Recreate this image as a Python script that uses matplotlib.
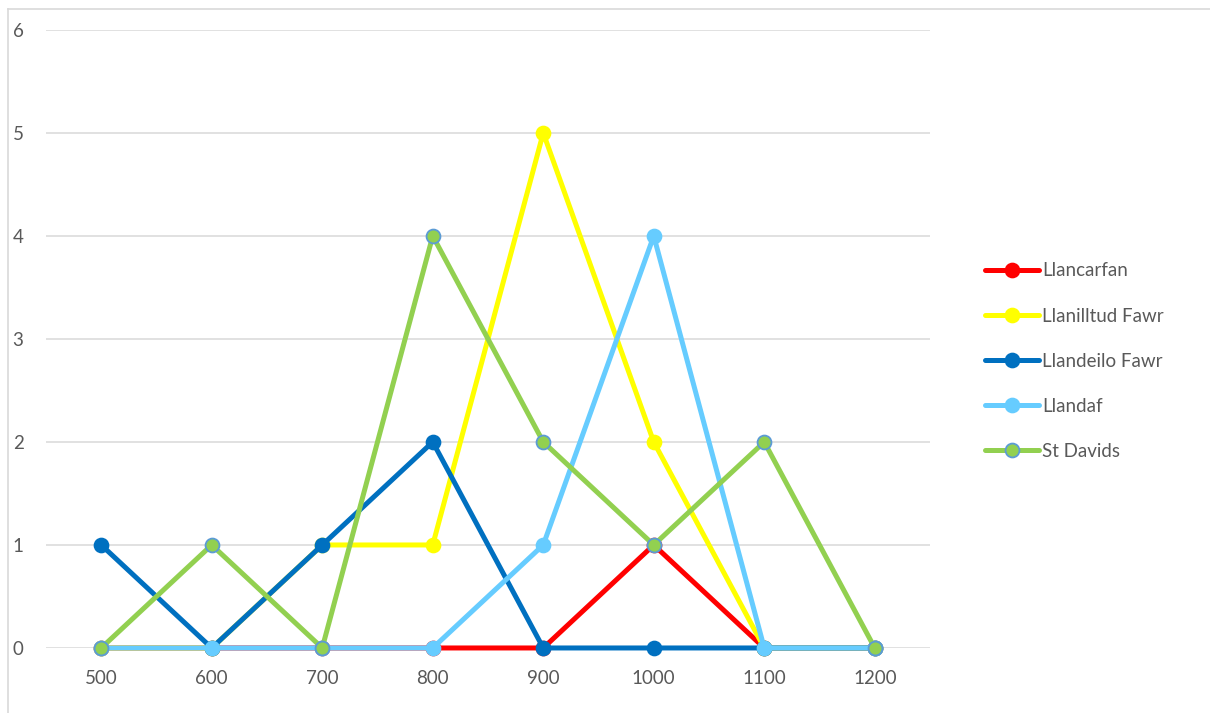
import matplotlib.pyplot as plt
from matplotlib.lines import Line2D

years = [500, 600, 700, 800, 900, 1000, 1100, 1200]

llancarfan = [0, 0, 0, 0, 0, 1, 0, 0]
llanilltud_fawr = [0, 0, 1, 1, 5, 2, 0, 0]
llandeilo_fawr = [1, 0, 1, 2, 0, 0, 0, 0]
llandaf = [0, 0, 0, 0, 1, 4, 0, 0]
st_davids = [0, 1, 0, 4, 2, 1, 2, 0]

series = [
    ("Llancarfan", llancarfan, "#FF0000", "#FF0000"),
    ("Llanilltud Fawr", llanilltud_fawr, "#FFFF00", "#FFFF00"),
    ("Llandeilo Fawr", llandeilo_fawr, "#0070C0", "#0070C0"),
    ("Llandaf", llandaf, "#66CCFF", "#66CCFF"),
    ("St Davids", st_davids, "#92D050", "#5B9BD5"),
]

plt.rcParams['font.family'] = ['Lato', 'DejaVu Sans']

fig = plt.figure(figsize=(12.10, 7.13), dpi=100)
ax = fig.add_axes([0.038, 0.0912, 0.7306, 0.8668])

for name, vals, col, edge in series:
    ax.plot(years, vals, color=col, lw=3.6, marker='o', markersize=10,
            markerfacecolor=col, markeredgecolor=edge, markeredgewidth=1.3,
            label=name, solid_capstyle='round', clip_on=False)

ax.set_xlim(450, 1250)
ax.set_ylim(0, 6)
ax.set_xticks(years)
ax.set_yticks(range(7))
ax.grid(axis='y', color='#D9D9D9', lw=1.1)
ax.set_axisbelow(True)
for s in ax.spines.values():
    s.set_visible(False)
ax.tick_params(length=0, labelsize=13.5, colors='#595959', pad=16)
ax.tick_params(axis='y', pad=24)
for lbl in ax.get_yticklabels():
    lbl.set_horizontalalignment('left')

fig.legend(loc='center left', bbox_to_anchor=(0.8, 0.4935), frameon=False,
           fontsize=13.5, handlelength=2.9, labelspacing=1.5, handletextpad=0.15,
           labelcolor='#595959')

# chart frame (top and left edge)
fig.add_artist(Line2D([8 / 1210, 1], [1 - 9 / 713, 1 - 9 / 713], color='#D9D9D9', lw=1.2))
fig.add_artist(Line2D([8 / 1210, 8 / 1210], [0, 1 - 9 / 713], color='#D9D9D9', lw=1.2))

fig.savefig('out.png', dpi=100, facecolor='white')
